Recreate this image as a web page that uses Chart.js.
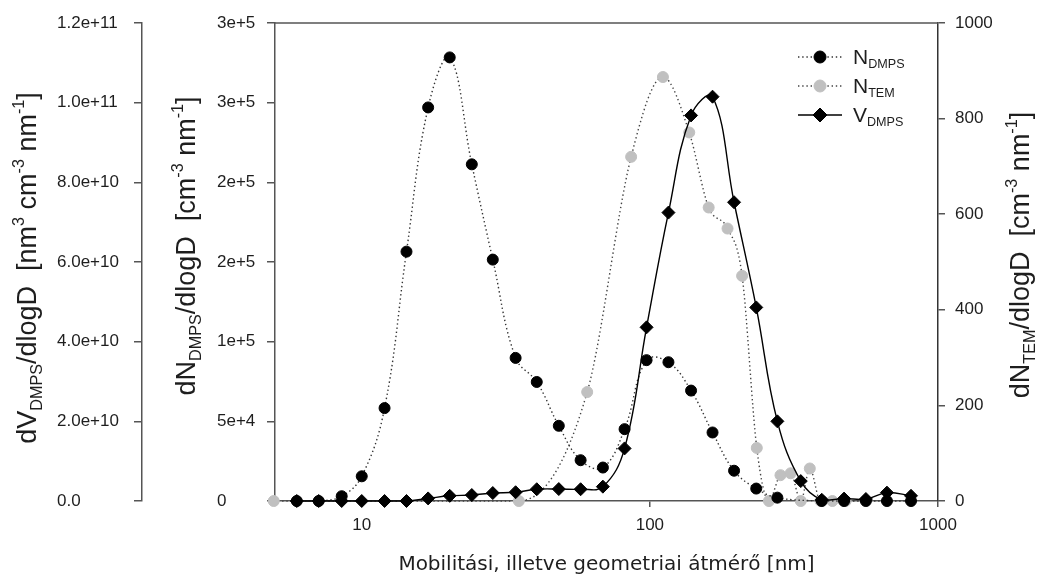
<!DOCTYPE html>
<html><head><meta charset="utf-8">
<script src="https://cdn.jsdelivr.net/npm/chart.js@4.4.1/dist/chart.umd.min.js"></script>
<style>html,body{margin:0;padding:0;background:#fff;}#wrap{width:1041px;height:581px;}</style>
</head><body><div id="wrap"><canvas id="c" width="1041" height="581"></canvas></div>
<script>
// ---- data ----
const dmpsDiameter = [5.95, 7.09, 8.52, 10.0, 12.0, 14.3, 17.0, 20.2, 24.1, 28.5, 34.2, 40.5, 48.3, 57.5, 68.7, 81.7, 97.4, 116, 139, 165, 196, 234, 277, 334, 395, 472, 562, 665, 806];
const nDmps = [0, 0, 3000, 15500, 58300, 156500, 247000, 278400, 211300, 151500, 89800, 74700, 47200, 25600, 21000, 45100, 88400, 87100, 69300, 43000, 19000, 7800, 2100, null, 0, 0, 0, 0, 0];
const vDmps = [0, 0, 0, 0, 0, 0, 0.65e9, 1.3e9, 1.5e9, 2.0e9, 2.2e9, 2.95e9, 3.0e9, 2.95e9, 3.6e9, 1.32e10, 4.36e10, 7.24e10, 9.68e10, 1.015e11, 7.5e10, 4.86e10, 2.0e10, 5.0e9, 0.3e9, 0.6e9, 0.5e9, 2.1e9, 1.3e9];
const temDiameter = [4.95, 35.1, 60.6, 86.1, 111, 137, 160, 186, 209, 235, 259, 284, 308, 334, 359, 391, 430, 478];
const nTem = [0, 0, 228, 720, 887, 771, 614, 570, 471, 111, 0, 54, 58, 0, 68, 0, 0, 0];

const xTickValues = [10, 100, 1000];
const xTickLabels = ['10', '100', '1000'];
const nTickValues = [0, 50000, 100000, 150000, 200000, 250000, 300000];
const nTickLabels = ['0', '5e+4', '1e+5', '2e+5', '2e+5', '3e+5', '3e+5'];
const vTickValues = [0, 2e10, 4e10, 6e10, 8e10, 1e11, 1.2e11];
const vTickLabels = ['0.0', '2.0e+10', '4.0e+10', '6.0e+10', '8.0e+10', '1.0e+11', '1.2e+11'];
const tTickValues = [0, 200, 400, 600, 800, 1000];
const tTickLabels = ['0', '200', '400', '600', '800', '1000'];

const xTitle = 'Mobilitási, illetve geometriai átmérő [nm]';
const vTitle = [['dV',''],['DMPS','sub'],['/dlogD  [nm',''],['3','sup'],[' cm',''],['-3','sup'],[' nm',''],['-1','sup'],[']','']];
const nTitle = [['dN',''],['DMPS','sub'],['/dlogD  [cm',''],['-3','sup'],[' nm',''],['-1','sup'],[']','']];
const tTitle = [['dN',''],['TEM','sub'],['/dlogD  [cm',''],['-3','sup'],[' nm',''],['-1','sup'],[']','']];
const legendNames = [[['N',''],['DMPS','sub']], [['N',''],['TEM','sub']], [['V',''],['DMPS','sub']]];

// ---- helpers ----
const FONT = "'Liberation Sans', Arial, sans-serif";
const TXT = '#1e1e1e';
const AX = '#555';
function drawRich(ctx, segs, x, y, size, rotate, align) {
  ctx.save();
  ctx.translate(x, y);
  if (rotate) ctx.rotate(-Math.PI / 2);
  let total = 0;
  for (const s of segs) { ctx.font = (s[1] ? size * 0.6 : size) + 'px ' + FONT; total += ctx.measureText(s[0]).width; }
  let cx = align === 'left' ? 0 : -total / 2;
  ctx.textAlign = 'left';
  ctx.textBaseline = 'alphabetic';
  ctx.fillStyle = TXT;
  const base = size * 0.36;
  for (const s of segs) {
    const fs = s[1] ? size * 0.6 : size;
    ctx.font = fs + 'px ' + FONT;
    const dy = s[1] === 'sub' ? size * 0.22 : (s[1] === 'sup' ? -size * 0.42 : 0);
    ctx.fillText(s[0], cx, base + dy);
    cx += ctx.measureText(s[0]).width;
  }
  ctx.restore();
}
function marker(ctx, style, x, y, color) {
  ctx.save();
  ctx.fillStyle = color; ctx.strokeStyle = color; ctx.lineWidth = 1;
  ctx.beginPath();
  if (style === 'circle') ctx.arc(x, y, 6, 0, Math.PI * 2);
  else { ctx.moveTo(x - 7, y); ctx.lineTo(x, y - 7); ctx.lineTo(x + 7, y); ctx.lineTo(x, y + 7); ctx.closePath(); }
  ctx.fill(); ctx.stroke();
  ctx.restore();
}

const decor = {
  id: 'decor',
  afterDraw(chart) {
    const ctx = chart.ctx, a = chart.chartArea;
    ctx.save();
    ctx.strokeStyle = AX; ctx.lineWidth = 1.5;
    ctx.beginPath(); ctx.moveTo(a.left, a.top); ctx.lineTo(a.right, a.top); ctx.stroke();
    ctx.restore();
    const sN = chart.scales.yN, sT = chart.scales.yT;
    drawRich(ctx, vTitle, 26, 268, 27, true);
    drawRich(ctx, nTitle, sN.left - 32, 246, 27, true);
    drawRich(ctx, tTitle, sT.left + 81, 255, 27, true);
    ctx.save();
    ctx.font = "20px 'DejaVu Sans', Verdana, sans-serif";
    ctx.fillStyle = TXT; ctx.textAlign = 'center'; ctx.textBaseline = 'middle';
    ctx.fillText(xTitle, (a.left + a.right) / 2, 565);
    ctx.restore();
    const ds = chart.data.datasets;
    const order = [1, 2, 0];
    order.forEach((di, row) => {
      const d = ds[di];
      const y = a.top + 34 + row * 29;
      const x0 = a.right - 140, x1 = a.right - 96, mx = a.right - 118;
      ctx.save();
      ctx.strokeStyle = d.borderColor; ctx.lineWidth = d.borderWidth;
      ctx.setLineDash(d.borderDash || []);
      ctx.beginPath(); ctx.moveTo(x0, y); ctx.lineTo(x1, y); ctx.stroke();
      ctx.restore();
      marker(ctx, d.pointStyle, mx, y, d.pointBackgroundColor);
      drawRich(ctx, legendNames[row], a.right - 85, y - 1, 21, false, 'left');
    });
  }
};

const tickFont = { family: FONT, size: 17 };
const gridOpt = (len) => ({ display: true, drawOnChartArea: false, drawTicks: true, tickLength: len, color: AX, lineWidth: 1.5 });

new Chart(document.getElementById('c').getContext('2d'), {
  type: 'line',
  data: {
    datasets: [
      { label: 'V_DMPS', data: dmpsDiameter.map((d, i) => ({ x: d, y: vDmps[i] })), yAxisID: 'yV', order: 0,
        borderColor: '#000', borderWidth: 1.4, pointStyle: 'rectRot', pointRadius: 6.5, pointBorderWidth: 1,
        pointBackgroundColor: '#000', pointBorderColor: '#000', tension: 0.4, fill: false, clip: false },
      { label: 'N_DMPS', data: dmpsDiameter.map((d, i) => ({ x: d, y: nDmps[i] })), yAxisID: 'yN', order: 1, spanGaps: true,
        borderColor: '#333', borderWidth: 1.4, borderDash: [1.4, 2.8], pointStyle: 'circle', pointRadius: 5.5, pointBorderWidth: 1,
        pointBackgroundColor: '#000', pointBorderColor: '#000', tension: 0.4, fill: false, clip: false },
      { label: 'N_TEM', data: temDiameter.map((d, i) => ({ x: d, y: nTem[i] })), yAxisID: 'yT', order: 2,
        borderColor: '#444', borderWidth: 1.4, borderDash: [1.4, 2.8], pointStyle: 'circle', pointRadius: 5.5, pointBorderWidth: 1,
        pointBackgroundColor: '#c0c0c0', pointBorderColor: '#c0c0c0', cubicInterpolationMode: 'monotone', fill: false, clip: false }
    ]
  },
  options: {
    responsive: false, animation: false, events: [],
    layout: { padding: { left: 57, top: 23, right: 0, bottom: 0 } },
    plugins: { legend: { display: false }, tooltip: { enabled: false } },
    scales: {
      x: { type: 'logarithmic', position: 'bottom', min: 5, max: 1000,
        afterBuildTicks: s => { s.ticks = xTickValues.map(v => ({ value: v })); },
        ticks: { callback: (v, i) => xTickLabels[i], font: tickFont, color: TXT, padding: 8, maxRotation: 0, autoSkip: false },
        grid: gridOpt(6), border: { display: true, color: AX, width: 1.5 },
        afterFit: s => { s.height = 80; } },
      yV: { position: 'left', weight: 2, min: 0, max: 1.2e11,
        afterBuildTicks: s => { s.ticks = vTickValues.map(v => ({ value: v })); },
        ticks: { callback: (v, i) => vTickLabels[i], font: tickFont, color: TXT, crossAlign: 'far', padding: 8 },
        grid: gridOpt(8), border: { display: true, color: AX, width: 1.5 },
        afterFit: s => { s.width = 85; } },
      yGap: { position: 'left', weight: 1, display: true, min: 0, max: 1,
        ticks: { display: false }, grid: { display: false }, border: { display: false },
        afterFit: s => { s.width = 75; } },
      yN: { position: 'left', weight: 0, min: 0, max: 300000,
        afterBuildTicks: s => { s.ticks = nTickValues.map(v => ({ value: v })); },
        ticks: { callback: (v, i) => nTickLabels[i], font: tickFont, color: TXT, crossAlign: 'far', padding: 8 },
        grid: gridOpt(8), border: { display: true, color: AX, width: 1.5 },
        afterFit: s => { s.width = 58; } },
      yT: { position: 'right', min: 0, max: 1000,
        afterBuildTicks: s => { s.ticks = tTickValues.map(v => ({ value: v })); },
        ticks: { callback: (v, i) => tTickLabels[i], font: tickFont, color: TXT, padding: 10 },
        grid: gridOpt(7), border: { display: true, color: '#333', width: 1.5 },
        afterFit: s => { s.width = 103; } }
    }
  },
  plugins: [decor]
});
</script></body></html>
